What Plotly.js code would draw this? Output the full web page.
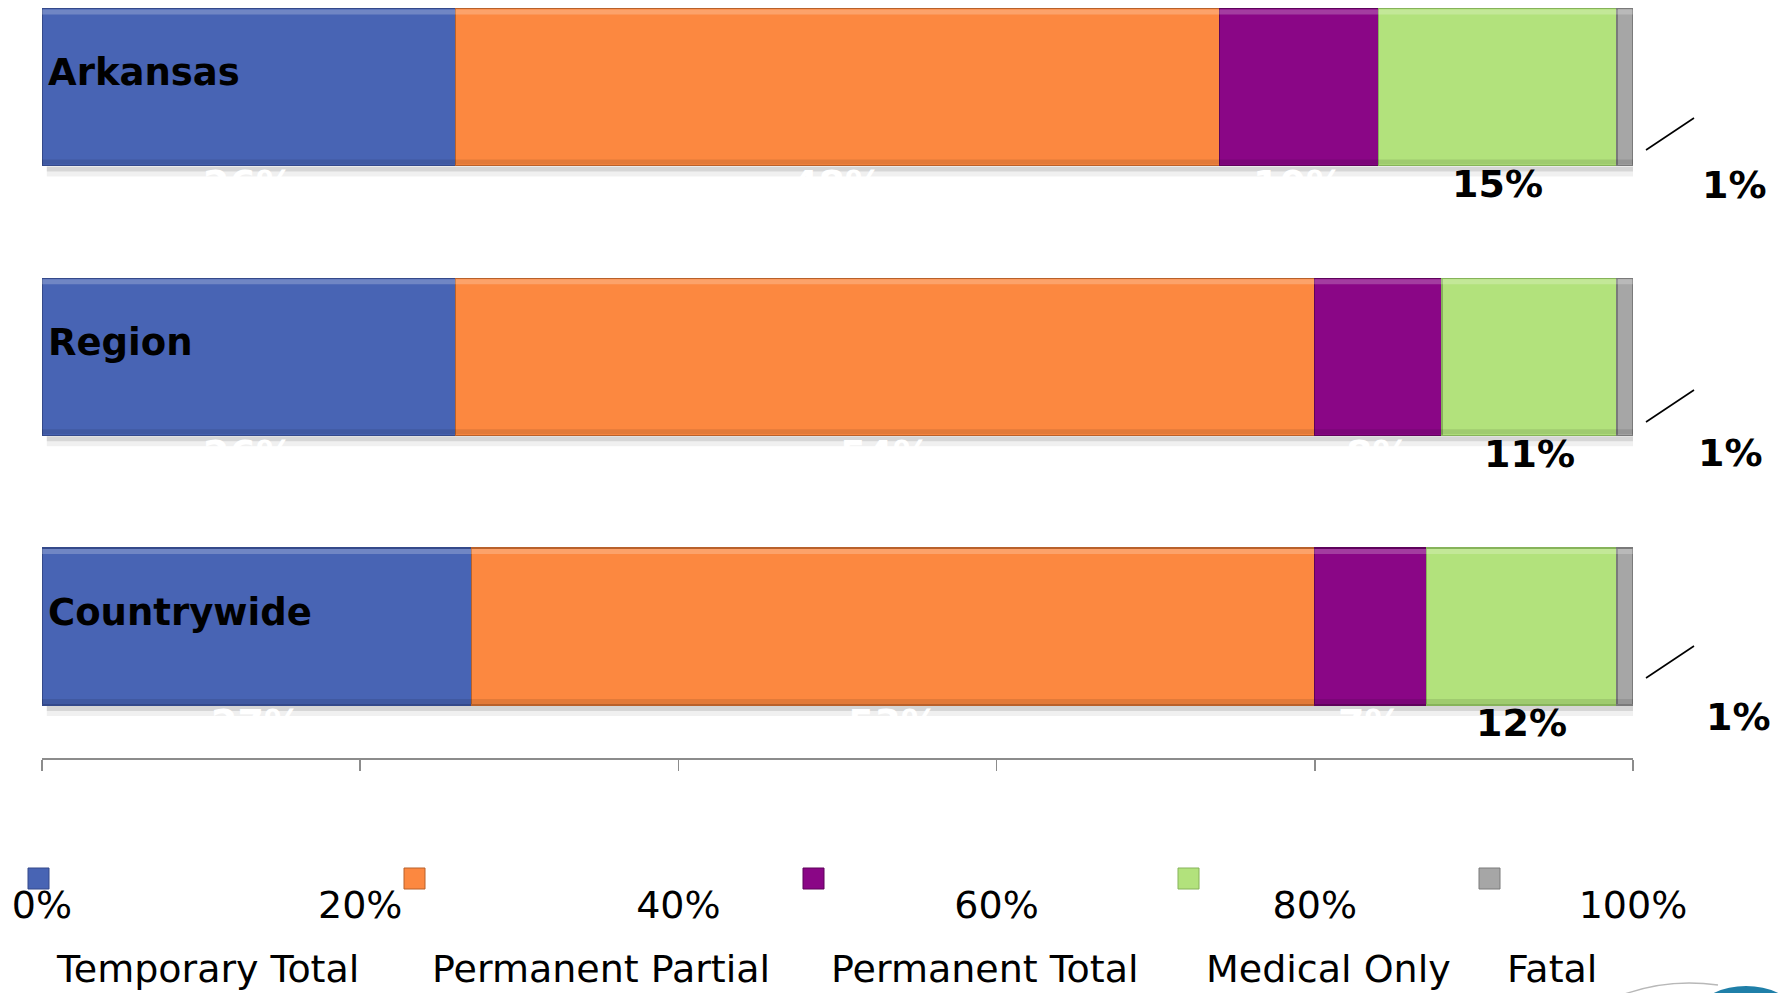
<!DOCTYPE html>
<html>
<head>
<meta charset="utf-8">
<script src="https://cdn.plot.ly/plotly-3.0.1.min.js"></script>
<style>
  html, body { margin: 0; padding: 0; background: #ffffff; }
  #chart { width: 1791px; height: 993px; }
</style>
</head>
<body>
<div id="chart"></div>
<script>
// ---- data ----
const categories = ['Arkansas', 'Region', 'Countrywide'];
const seriesNames = ['Temporary Total', 'Permanent Partial', 'Permanent Total', 'Medical Only', 'Fatal'];
const temporaryTotal = [26, 26, 27];
const permanentPartial = [48, 54, 53];
const permanentTotal = [10, 8, 7];
const medicalOnly = [15, 11, 12];
const fatal = [1, 1, 1];
const tickValues = [0, 20, 40, 60, 80, 100];
const tickLabels = ['0%', '20%', '40%', '60%', '80%', '100%'];

// ---- styles ----
const seriesValues = [temporaryTotal, permanentPartial, permanentTotal, medicalOnly, fatal];
const colors = ['#4864B4', '#FC8840', '#8A0686', '#B2E27C', '#A6A6A6'];
const edgeColors = ['#34498A', '#B8612B', '#5E035B', '#86B35A', '#7A7A7A'];
const labelColors = ['#FFFFFF', '#FFFFFF', '#FFFFFF', '#000000', '#000000'];
const FONT = '"DejaVu Sans", Verdana, sans-serif';
const PLOT_L = 42, PLOT_R = 1633, PLOT_T = 6, PLOT_B = 758;
const px2paperX = p => (p - PLOT_L) / (PLOT_R - PLOT_L);
const px2paperY = p => (PLOT_B - p) / (PLOT_B - PLOT_T);

// style-only offsets for the detached "Fatal" labels and their leader lines (pixels)
const fatalLabelPx = [[1734, 185], [1730, 453], [1738, 717]];
const leaderPx = [[1646, 150, 1694, 118], [1646, 422, 1694, 390], [1646, 678, 1694, 646]];
const BAR_HALF = 78.5;

const traces = seriesNames.map((name, i) => ({
  type: 'bar',
  orientation: 'h',
  name: name,
  y: categories,
  x: seriesValues[i],
  marker: { color: colors[i], line: { color: edgeColors[i], width: 1.2 } },
  hoverinfo: 'name+x',
  showlegend: false
}));

const annotations = [];
const shapes = [];

// category labels inside bars
categories.forEach((c, k) => {
  annotations.push({
    x: 0, y: c, xref: 'x', yref: 'y',
    text: c, showarrow: false, xanchor: 'left', yanchor: 'middle',
    xshift: 4, yshift: 14,
    font: { family: FONT, size: 37, color: '#000000', weight: 'bold' }
  });
});

// bar shadows and bevel highlights
categories.forEach((c, k) => {
  shapes.push({ type: 'rect', xref: 'x', yref: 'y', x0: 0.3, x1: 100,
    ysizemode: 'pixel', yanchor: k, y0: -BAR_HALF - 1, y1: -BAR_HALF - 6,
    fillcolor: 'rgba(0,0,0,0.16)', line: { width: 0 }, layer: 'below' });
  shapes.push({ type: 'rect', xref: 'x', yref: 'y', x0: 0.3, x1: 100,
    ysizemode: 'pixel', yanchor: k, y0: -BAR_HALF - 6, y1: -BAR_HALF - 11,
    fillcolor: 'rgba(0,0,0,0.06)', line: { width: 0 }, layer: 'below' });
  // top highlight and bottom darkening (bevel look)
  shapes.push({ type: 'rect', xref: 'x', yref: 'y', x0: 0, x1: 100,
    ysizemode: 'pixel', yanchor: k, y0: BAR_HALF - 1, y1: BAR_HALF - 6,
    fillcolor: 'rgba(255,255,255,0.22)', line: { width: 0 }, layer: 'above' });
  shapes.push({ type: 'rect', xref: 'x', yref: 'y', x0: 0, x1: 100,
    ysizemode: 'pixel', yanchor: k, y0: -BAR_HALF + 1, y1: -BAR_HALF + 6,
    fillcolor: 'rgba(0,0,0,0.10)', line: { width: 0 }, layer: 'above' });
});

// data labels
categories.forEach((c, k) => {
  let cum = 0;
  seriesValues.forEach((vals, i) => {
    const v = vals[k];
    const mid = cum + v / 2;
    cum += v;
    if (i === 4) {
      annotations.push({
        x: px2paperX(fatalLabelPx[k][0]), y: px2paperY(fatalLabelPx[k][1]),
        xref: 'paper', yref: 'paper', text: v + '%', showarrow: false,
        xanchor: 'center', yanchor: 'middle',
        font: { family: FONT, size: 38, color: labelColors[i], weight: 'bold' }
      });
      const L = leaderPx[k];
      shapes.push({ type: 'line', xref: 'paper', yref: 'paper',
        x0: px2paperX(L[0]), y0: px2paperY(L[1]), x1: px2paperX(L[2]), y1: px2paperY(L[3]),
        line: { color: '#000000', width: 1.6 } });
    } else {
      annotations.push({
        x: mid, y: c, xref: 'x', yref: 'y', text: v + '%', showarrow: false,
        xanchor: 'center', yanchor: 'middle', yshift: -97,
        font: { family: FONT, size: 38, color: labelColors[i], weight: 'bold' }
      });
    }
  });
});

// custom legend (markers above-left of the names)
const legendTextX = [54, 430, 829, 1204, 1505];
seriesNames.forEach((name, i) => {
  annotations.push({
    x: px2paperX(legendTextX[i]), y: px2paperY(969), xref: 'paper', yref: 'paper',
    text: name, showarrow: false, xanchor: 'left', yanchor: 'middle',
    font: { family: FONT, size: 38, color: '#000000' }
  });
  shapes.push({ type: 'rect', xref: 'paper', yref: 'paper',
    x0: px2paperX(legendTextX[i] - 26), x1: px2paperX(legendTextX[i] - 5),
    y0: px2paperY(868), y1: px2paperY(889),
    fillcolor: colors[i], line: { color: edgeColors[i], width: 1 } });
});

// partial logo at bottom-right corner
shapes.push({ type: 'path', xref: 'paper', yref: 'paper',
  path: 'M' + px2paperX(1622) + ',' + px2paperY(995) + ' Q' + px2paperX(1668) + ',' + px2paperY(978) + ' ' + px2paperX(1718) + ',' + px2paperY(985),
  line: { color: '#B8B8B8', width: 1.5 } });
shapes.push({ type: 'circle', xref: 'paper', yref: 'paper',
  x0: px2paperX(1702), x1: px2paperX(1790), y0: px2paperY(986), y1: px2paperY(1030),
  fillcolor: '#1F7FA8', line: { width: 0 } });

const layout = {
  width: 1791, height: 993,
  margin: { l: PLOT_L, r: 1791 - PLOT_R, t: PLOT_T, b: 993 - PLOT_B, pad: 0 },
  paper_bgcolor: '#ffffff', plot_bgcolor: '#ffffff',
  barmode: 'stack', bargap: 0.418,
  showlegend: false,
  font: { family: FONT, color: '#000000' },
  xaxis: {
    range: [0, 100], tickvals: tickValues, ticktext: tickLabels,
    showgrid: false, zeroline: false, showline: true,
    linecolor: '#8C8C8C', linewidth: 1.5,
    ticks: 'outside', ticklen: 11, tickwidth: 1.5, tickcolor: '#8C8C8C',
    ticklabelstandoff: 102,
    tickfont: { family: FONT, size: 38, color: '#000000' },
    fixedrange: true
  },
  yaxis: {
    type: 'category', categoryarray: categories, categoryorder: 'array',
    range: [2.4876, -0.3],
    showgrid: false, zeroline: false, showline: false, showticklabels: false,
    ticks: '', fixedrange: true
  },
  annotations: annotations,
  shapes: shapes
};

Plotly.newPlot('chart', traces, layout, { displayModeBar: false, staticPlot: true });
</script>
</body>
</html>
